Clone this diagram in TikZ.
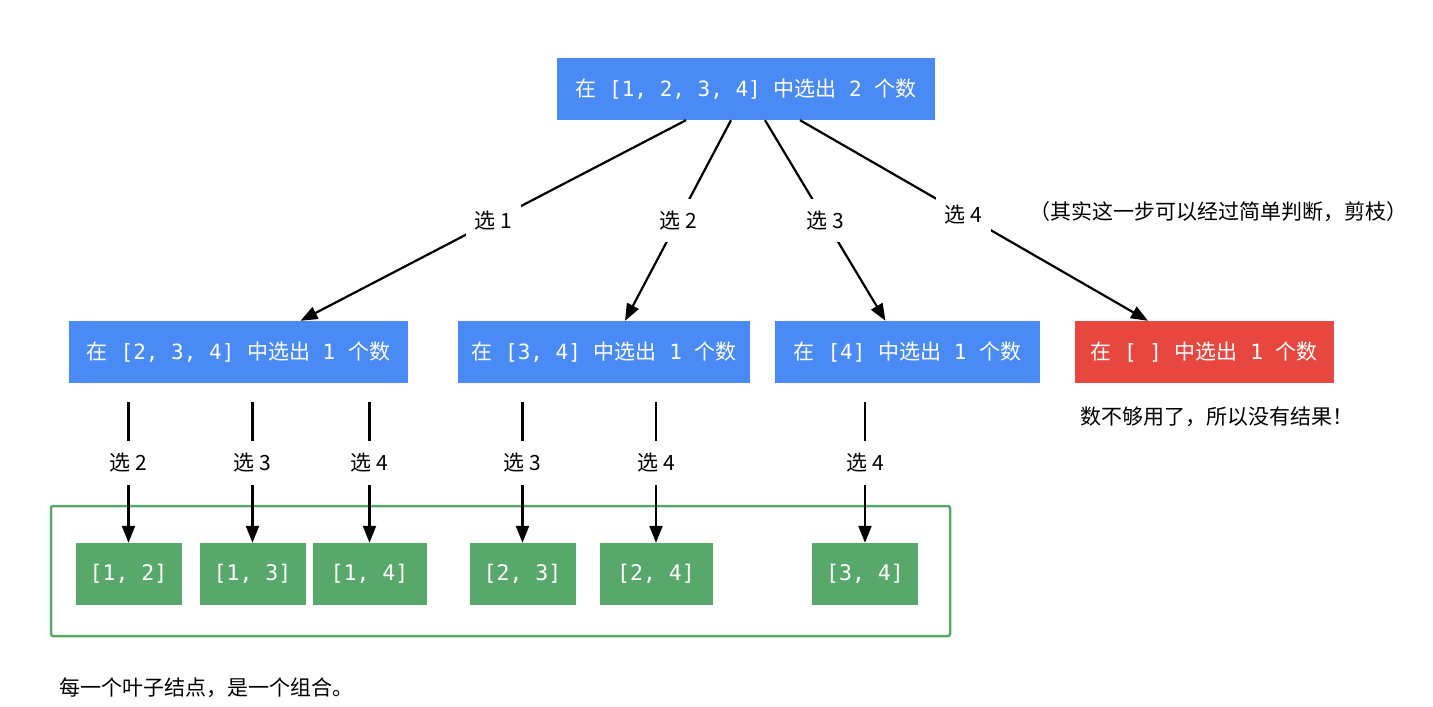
\documentclass[tikz,border=0pt]{standalone}
\usepackage{fontspec}
\setmainfont{Noto Sans CJK SC}
\setmonofont{DejaVu Sans Mono}
\usetikzlibrary{arrows.meta}
\definecolor{boxblue}{HTML}{4A8AF4}
\definecolor{boxred}{HTML}{E8473F}
\definecolor{leafgreen}{HTML}{58A86B}

\begin{document}
\begin{tikzpicture}[x=1pt, y=-1pt,
  every node/.append style={font=\fontsize{21}{25}\selectfont},
  main/.style = {fill=boxblue, text=white, minimum height=62pt, inner sep=0pt},
  leaf/.style = {fill=leafgreen, text=white, minimum height=62pt, minimum width=106pt,
                 inner sep=0pt, font=\fontsize{21.5}{25}\selectfont\ttfamily},
  lbl/.style = {fill=white, inner xsep=9pt, inner ysep=12pt},
  pick/.style = {draw=black, line width=2.2pt, -{Triangle[length=17pt,width=13pt]}},
  frame/.style = {draw=leafgreen, line width=2.5pt, rounded corners=2pt}]

\useasboundingbox (0,0) rectangle (1433,707);

% top
\node[main, minimum width=378pt] (top) at (746, 89) {在\texttt{ [1, 2, 3, 4] }中选出\texttt{ 2 }个数};

% second row
\node[main, minimum width=339pt] (A) at (238.5, 352) {在\texttt{ [2, 3, 4] }中选出\texttt{ 1 }个数};
\node[main, minimum width=292pt] (B) at (604, 352) {在\texttt{ [3, 4] }中选出\texttt{ 1 }个数};
\node[main, minimum width=265pt] (C) at (907.5, 352) {在\texttt{ [4] }中选出\texttt{ 1 }个数};
\node[main, fill=boxred, minimum width=259pt] (D) at (1204, 352) {在\texttt{ [ ] }中选出\texttt{ 1 }个数};

\draw[pick] ([xshift=-60pt]top.south) -- node[lbl]{选 1} ([xshift=62pt]A.north);
\draw[pick] ([xshift=-15pt]top.south) -- node[lbl]{选 2} ([xshift=21pt]B.north);
\draw[pick] ([xshift=19pt]top.south) -- node[lbl]{选 3} ([xshift=-22pt]C.north);
\draw[pick] ([xshift=54pt]top.south) -- node[lbl, pos=0.47]{选 4} ([xshift=-56pt]D.north);

\node (N1) at (1218, 212) {（其实这一步可以经过简单判断，剪枝）};
\node (N2) at (1217, 417) {数不够用了，所以没有结果！};

% leaves
\draw[frame] (51, 506) rectangle (950, 636);

\node[leaf] (L12) at (128.5, 574) {[1, 2]};
\node[leaf] (L13) at (252.5, 574) {[1, 3]};
\node[leaf, minimum width=114pt] (L14) at (369.5, 574) {[1, 4]};
\node[leaf] (L23) at (522.5, 574) {[2, 3]};
\node[leaf, minimum width=113pt] (L24) at (656, 574) {[2, 4]};
\node[leaf] (L34) at (865, 574) {[3, 4]};

\draw[pick, shorten <=19pt] (L12.north |- A.south) -- node[lbl]{选 2} (L12.north);
\draw[pick, shorten <=19pt] (L13.north |- A.south) -- node[lbl]{选 3} (L13.north);
\draw[pick, shorten <=19pt] (L14.north |- A.south) -- node[lbl]{选 4} (L14.north);
\draw[pick, shorten <=19pt] (L23.north |- B.south) -- node[lbl]{选 3} (L23.north);
\draw[pick, shorten <=19pt] (L24.north |- B.south) -- node[lbl]{选 4} (L24.north);
\draw[pick, shorten <=19pt] (L34.north |- C.south) -- node[lbl]{选 4} (L34.north);

\node[anchor=west] (N3) at (56, 688) {每一个叶子结点，是一个组合。};

\end{tikzpicture}
\end{document}
